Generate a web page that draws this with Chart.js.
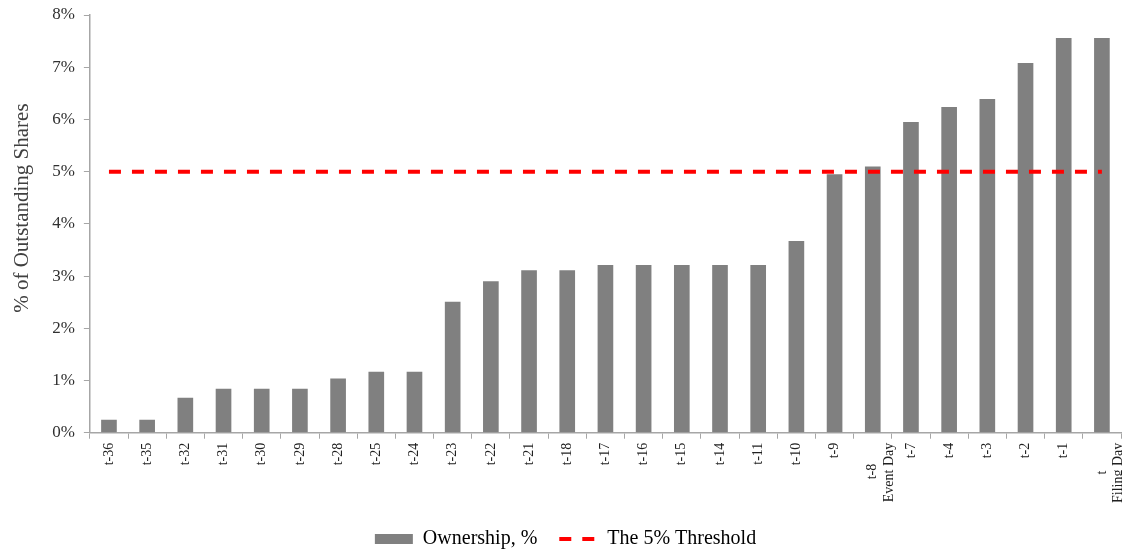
<!DOCTYPE html>
<html>
<head>
<meta charset="utf-8">
<script src="https://cdn.jsdelivr.net/npm/chart.js@4"></script>
<style>
  html, body { margin: 0; padding: 0; background: #fff; }
  #wrap { width: 1122px; height: 550px; position: relative; }
</style>
</head>
<body>
<div id="wrap"><canvas id="ownChart"></canvas></div>
<script>
// days relative to the filing day
const labels = ['t-36', 't-35', 't-32', 't-31', 't-30', 't-29', 't-28', 't-25', 't-24',
    't-23', 't-22', 't-21', 't-18', 't-17', 't-16', 't-15', 't-14', 't-11', 't-10', 't-9',
    ['t-8      ', 'Event Day'], 't-7', 't-4', 't-3', 't-2', 't-1', ['t        ', 'Filing Day']];

// ownership, % of outstanding shares
const ownership = [0.25, 0.25, 0.67, 0.84, 0.84, 0.84, 1.04, 1.17, 1.17,
    2.51, 2.90, 3.11, 3.11, 3.21, 3.21, 3.21, 3.21, 3.21, 3.67, 4.95,
    5.10, 5.95, 6.24, 6.39, 7.08, 7.56, 7.56];

const threshold = labels.map(() => 5);

const yTicks = [0, 1, 2, 3, 4, 5, 6, 7, 8];

const serif = '"Liberation Serif", "DejaVu Serif", serif';
const axisGray = '#a6a6a6';

Chart.defaults.font.family = serif;
Chart.defaults.color = '#404040';

const ctx = document.getElementById('ownChart').getContext('2d');
new Chart(ctx, {
    data: {
        labels: labels,
        datasets: [{
            type: 'bar',
            label: 'Ownership, %',
            data: ownership,
            backgroundColor: '#808080',
            barPercentage: 0.41,
            categoryPercentage: 1,
            pointStyle: 'rect',
            order: 1
        }, {
            type: 'line',
            label: 'The 5% Threshold',
            data: threshold,
            borderColor: '#ff0000',
            backgroundColor: '#ff0000',
            borderWidth: 4,
            borderDash: [12, 11],
            pointRadius: 0,
            pointStyle: 'line',
            fill: false,
            order: 0
        }]
    },
    options: {
        responsive: true,
        maintainAspectRatio: false,
        animation: false,
        layout: { padding: { left: 10, right: 1, top: 15, bottom: -9 } },
        plugins: {
            tooltip: { enabled: false },
            legend: {
                position: 'bottom',
                labels: {
                    usePointStyle: true,
                    pointStyleWidth: 38,
                    boxHeight: 10,
                    padding: 22,
                    color: '#000',
                    font: { size: 20 },
                    sort: (a, b) => a.datasetIndex - b.datasetIndex,
                    generateLabels: (chart) => {
                        const items = Chart.defaults.plugins.legend.labels.generateLabels(chart);
                        items.forEach(it => {
                            const ds = chart.data.datasets[it.datasetIndex];
                            it.lineDash = ds.borderDash || [];
                        });
                        return items;
                    }
                }
            }
        },
        scales: {
            x: {
                offset: true,
                afterFit: (axis) => { axis.paddingRight = 0; },
                grid: {
                    offset: true,
                    drawOnChartArea: false,
                    color: axisGray,
                    tickLength: 6
                },
                border: { color: axisGray, width: 1.5 },
                ticks: {
                    autoSkip: false,
                    maxRotation: 90,
                    minRotation: 90,
                    padding: 4,
                    color: '#202020',
                    font: { size: 14 }
                }
            },
            y: {
                min: 0,
                max: 8,
                afterBuildTicks: (axis) => {
                    axis.ticks = yTicks.map(v => ({ value: v }));
                },
                afterFit: (axis) => { axis.paddingTop = 0; },
                grid: {
                    drawOnChartArea: false,
                    color: axisGray,
                    tickLength: 6
                },
                border: { color: axisGray, width: 1.5 },
                ticks: {
                    padding: 9,
                    color: '#303030',
                    font: { size: 17 },
                    callback: (v) => v + '%'
                },
                title: {
                    display: true,
                    text: '      % of Outstanding Shares',
                    color: '#404040',
                    font: { size: 21 },
                    padding: { top: 0, bottom: 8 }
                }
            }
        }
    }
});
</script>
</body>
</html>
